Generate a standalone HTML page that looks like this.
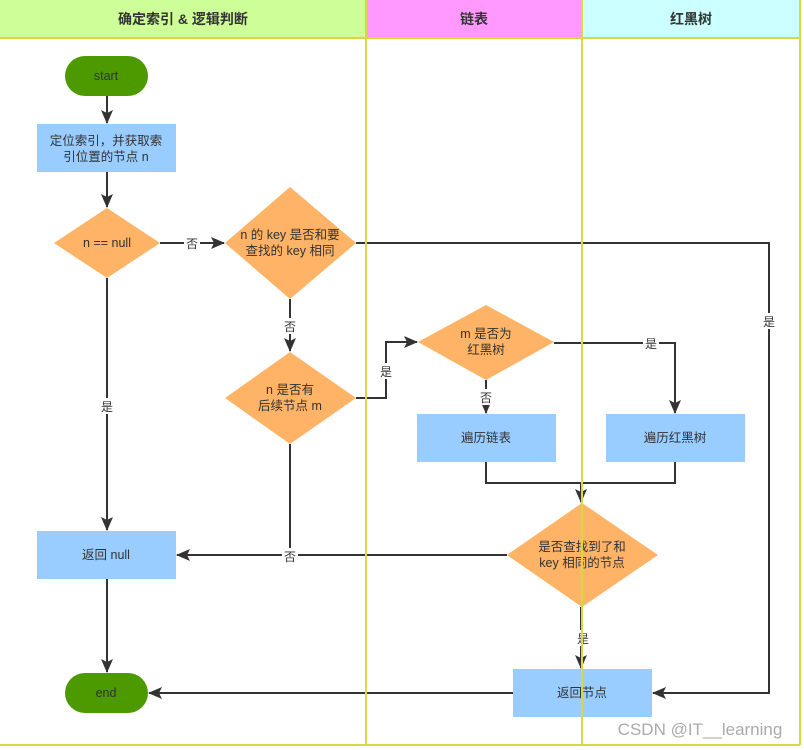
<!DOCTYPE html>
<html><head><meta charset="utf-8"><style>
html,body{margin:0;padding:0;background:#fff;}
svg{display:block;font-family:"Liberation Sans","Noto Sans CJK SC",sans-serif;}
</style></head><body>
<svg width="804" height="750" viewBox="0 0 804 750" xmlns="http://www.w3.org/2000/svg">
<defs>
<marker id="a" markerWidth="14" markerHeight="12" refX="13" refY="6" orient="auto" markerUnits="userSpaceOnUse">
<path d="M0,0 L14,6 L0,12 L3,6 Z" fill="#333"/></marker>
</defs>
<rect x="0" y="0" width="366" height="38" fill="#cdfe98"/>
<rect x="366" y="0" width="216" height="38" fill="#ff99ff"/>
<rect x="582" y="0" width="218" height="38" fill="#ccffff"/>
<g font-size="14" font-weight="bold" fill="#333" text-anchor="middle">
<text x="183" y="24">确定索引 &amp; 逻辑判断</text>
<text x="474" y="24">链表</text>
<text x="691" y="24">红黑树</text>
</g>
<g stroke="#333" stroke-width="2" fill="none">
<line x1="107" y1="96" x2="107" y2="123" marker-end="url(#a)"/>
<line x1="107" y1="172" x2="107" y2="207" marker-end="url(#a)"/>
<line x1="160" y1="243" x2="224" y2="243" marker-end="url(#a)"/>
<line x1="107" y1="278" x2="107" y2="530" marker-end="url(#a)"/>
<polyline points="356,243 769,243 769,693 653,693" marker-end="url(#a)"/>
<line x1="290" y1="299" x2="290" y2="351" marker-end="url(#a)"/>
<polyline points="356,398 386,398 386,342 417,342" marker-end="url(#a)"/>
<polyline points="290,444 290,555 177,555" marker-end="url(#a)"/>
<line x1="507" y1="555" x2="290" y2="555"/>
<line x1="486" y1="380" x2="486" y2="413" marker-end="url(#a)"/>
<polyline points="554,343 675,343 675,413" marker-end="url(#a)"/>
<polyline points="486,462 486,483 675,483 675,462"/>
<line x1="581" y1="483" x2="581" y2="502" marker-end="url(#a)"/>
<line x1="581" y1="607" x2="581" y2="668" marker-end="url(#a)"/>
<line x1="107" y1="579" x2="107" y2="672" marker-end="url(#a)"/>
<line x1="513" y1="693" x2="149" y2="693" marker-end="url(#a)"/>
</g>
<g fill="#4d9900">
<rect x="65" y="56" width="83" height="40" rx="20"/>
<rect x="65" y="673" width="83" height="40" rx="20"/>
</g>
<g fill="#99ccff">
<rect x="37" y="124" width="139" height="48"/>
<rect x="417" y="414" width="139" height="48"/>
<rect x="606" y="414" width="139" height="48"/>
<rect x="37" y="531" width="139" height="48"/>
<rect x="513" y="669" width="139" height="48"/>
</g>
<g fill="#ffb366">
<polygon points="107,208 160,243 107,278 54,243"/>
<polygon points="290,187 356,243 290,299 225,243"/>
<polygon points="290,352 356,398 290,444 225,398"/>
<polygon points="486,305 554,342 486,380 418,342"/>
<polygon points="582,503 658,555 582,607 507,555"/>
</g>
<g font-size="12.5" fill="#333" text-anchor="middle">
<text x="106" y="80">start</text>
<text x="106" y="697">end</text>
<text x="106" y="145">定位索引，并获取索</text>
<text x="106" y="161">引位置的节点 n</text>
<text x="107" y="247">n == null</text>
<text x="290" y="239">n 的 key 是否和要</text>
<text x="290" y="255">查找的 key 相同</text>
<text x="290" y="394">n 是否有</text>
<text x="290" y="410">后续节点 m</text>
<text x="486" y="338">m 是否为</text>
<text x="486" y="354">红黑树</text>
<text x="486" y="442">遍历链表</text>
<text x="675" y="442">遍历红黑树</text>
<text x="582" y="551">是否查找到了和</text>
<text x="582" y="567">key 相同的节点</text>
<text x="106" y="559">返回 null</text>
<text x="582" y="697">返回节点</text>
</g>
<g font-size="12" fill="#333" text-anchor="middle">
<rect x="184" y="235" width="16" height="16" fill="#fff"/><text x="192" y="248">否</text>
<rect x="99" y="398" width="16" height="16" fill="#fff"/><text x="107" y="411">是</text>
<rect x="761" y="313" width="16" height="16" fill="#fff"/><text x="769" y="326">是</text>
<rect x="282" y="318" width="16" height="16" fill="#fff"/><text x="290" y="331">否</text>
<rect x="378" y="363" width="16" height="16" fill="#fff"/><text x="386" y="376">是</text>
<rect x="282" y="548" width="16" height="16" fill="#fff"/><text x="290" y="561">否</text>
<rect x="478" y="389" width="16" height="16" fill="#fff"/><text x="486" y="402">否</text>
<rect x="643" y="335" width="16" height="16" fill="#fff"/><text x="651" y="348">是</text>
<rect x="575" y="630" width="16" height="16" fill="#fff"/><text x="583" y="643">是</text>
</g>
<g stroke="#d8d840" stroke-width="2" fill="none">
<line x1="366" y1="0" x2="366" y2="745"/>
<line x1="582" y1="0" x2="582" y2="745"/>
<line x1="800" y1="0" x2="800" y2="745"/>
<line x1="0" y1="38" x2="800" y2="38"/>
<line x1="0" y1="745" x2="800" y2="745"/>
</g>
<text x="700" y="735" font-size="17" fill="#aaa" text-anchor="middle">CSDN @IT__learning</text>
</svg>
</body></html>
